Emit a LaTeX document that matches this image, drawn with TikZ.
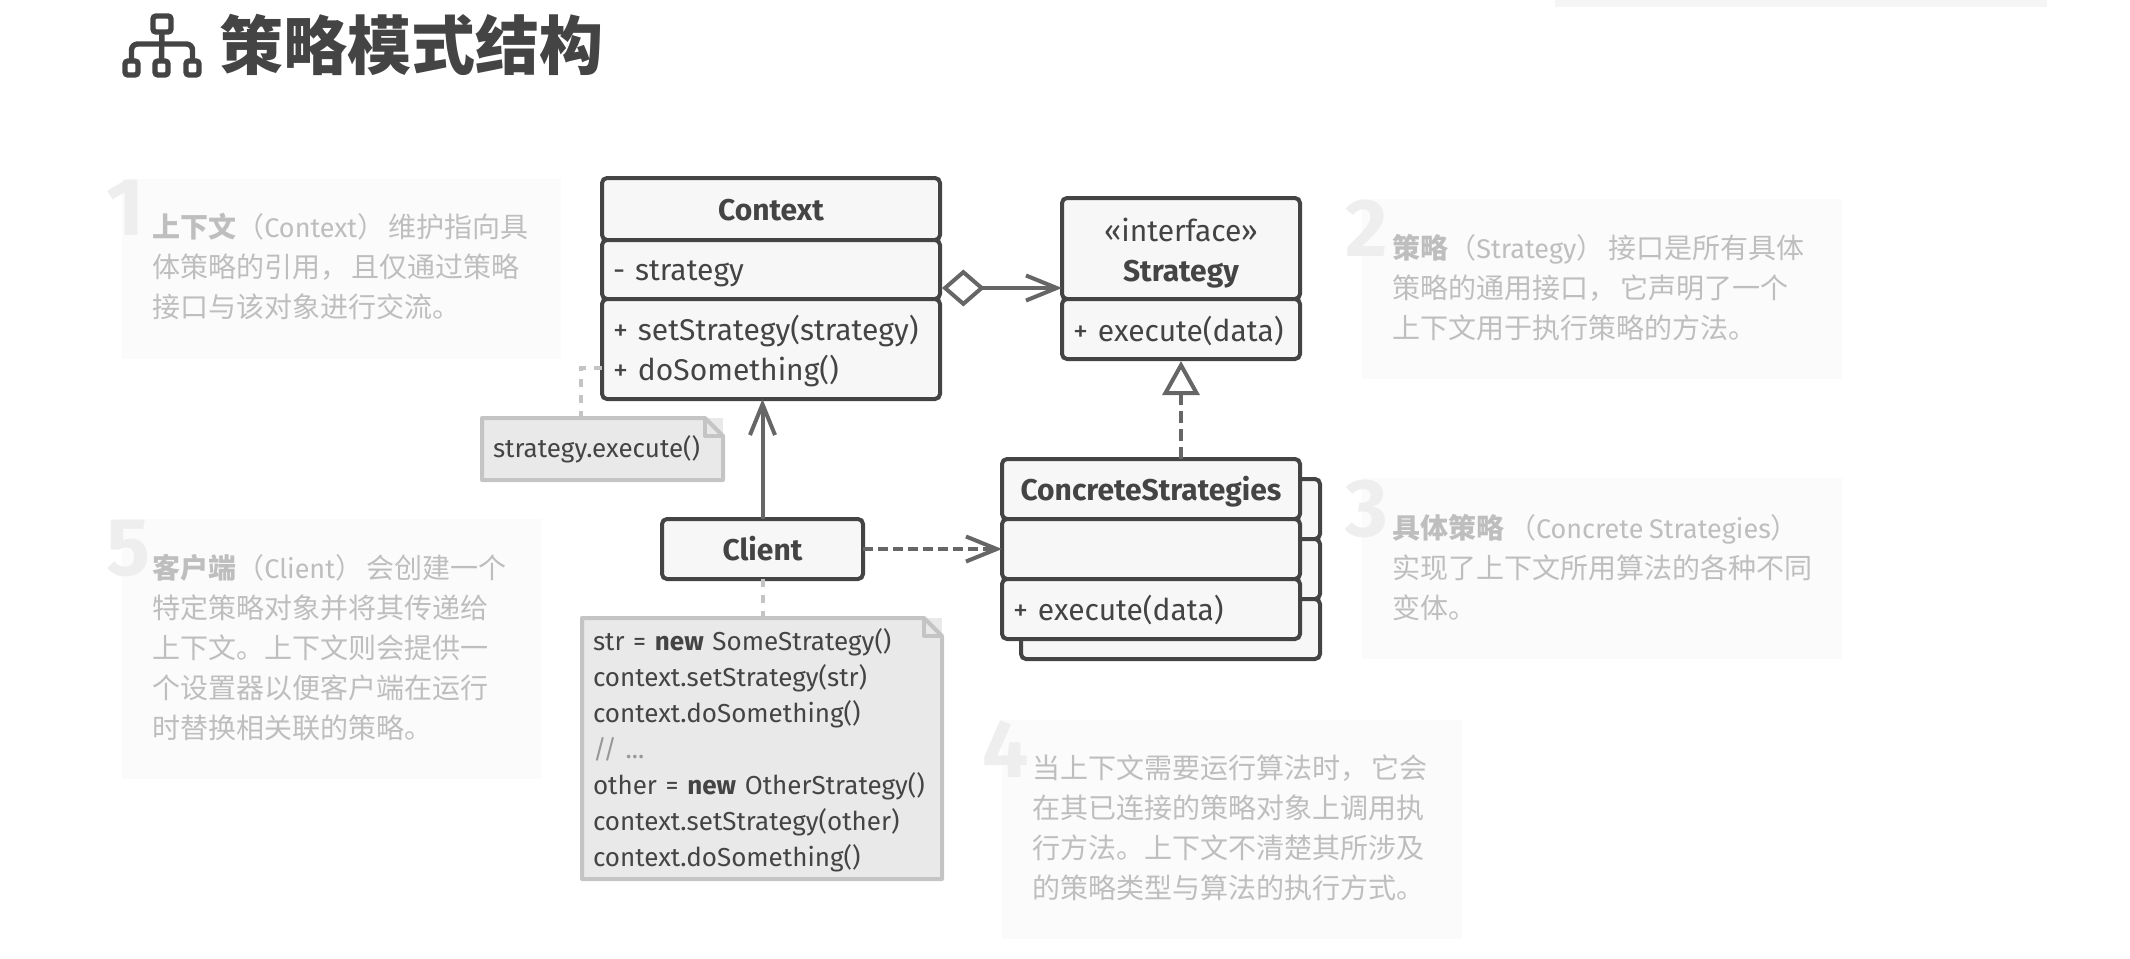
\documentclass[tikz,border=0pt]{standalone}
\usepackage{fontspec}
\setmainfont{Fira Sans}[WordSpace=0.8]
\newfontfamily\cjkfont{Noto Sans CJK SC}
\usetikzlibrary{calc,arrows.meta,positioning}
\definecolor{umlink}{HTML}{444444}
\definecolor{umlfill}{HTML}{F7F7F7}
\definecolor{umlarrow}{HTML}{666666}
\definecolor{notefill}{HTML}{E9E9E9}
\definecolor{noteline}{HTML}{C4C4C4}
\definecolor{panelfill}{HTML}{FBFBFB}
\definecolor{paneltext}{HTML}{BEBEBE}
\definecolor{panelnum}{HTML}{EEEEEE}
\definecolor{stripfill}{HTML}{F5F5F5}
\newcommand{\zh}[1]{{\cjkfont #1}}
\newcommand{\lat}[1]{{\fontsize{13.5}{20}\selectfont #1}}
\newcommand{\zhgap}{\hspace{1.8pt}}
\tikzset{
  umlrow/.style={rectangle, draw=umlink, fill=umlfill, line width=2pt, rounded corners=2.5pt,
                 anchor=north west, outer sep=0pt, inner ysep=0pt, inner xsep=5.5pt,
                 text=umlink, font=\fontsize{15}{20}\selectfont},
  umlback/.style={umlrow},
  umlbold/.style={font=\fontsize{15}{20}\selectfont\bfseries},
  textdown/.style={execute at begin node={\rule{0pt}{#1}}, execute at end node={\rule[-4pt]{0pt}{0pt}}},
  gassoc/.style ={-{Straight Barb[length=5.4mm,width=4.4mm,line width=2pt]}, line width=2pt, umlarrow},
  gaggr/.style  ={{Diamond[open,length=7.5mm,width=6.5mm,line width=2pt]}-{Straight Barb[length=5.4mm,width=4.4mm,line width=2pt]},
                  line width=2pt, umlarrow},
  gdep/.style   ={gassoc, dash pattern=on 5pt off 2.5pt},
  grealize/.style={-{Triangle[open,length=6mm,width=6.5mm,line width=2pt]}, line width=2pt, umlarrow,
                   dash pattern=on 6pt off 3pt, shorten >=1pt},
  glink/.style  ={line width=2pt, noteline, dash pattern=on 4pt off 4pt},
  notebox/.style={rectangle, fill=notefill, anchor=north west, outer sep=0pt, inner xsep=5.5pt,
                  inner ysep=0pt, text=umlink, font=\fontsize{13}{18}\selectfont},
  noteedge/.style={line width=2pt, noteline, line join=round},
  panel/.style={rectangle, fill=panelfill, anchor=north west, outer sep=0pt, inner sep=0pt},
  paneltxt/.style={anchor=north west, align=left, inner sep=0pt, text=paneltext,
                   font=\fontsize{14}{20}\selectfont},
  panelno/.style={anchor=north west, inner sep=0pt, text=panelnum,
                  font=\fontsize{41}{41}\selectfont\bfseries},
  iconbox/.style={rectangle, draw=umlink, line width=2.7pt, rounded corners=1.5pt, outer sep=0pt,
                  inner sep=0pt, anchor=north west},
  iconline/.style={line width=2.7pt, umlink, rounded corners=3pt},
}
\begin{document}
\begin{tikzpicture}[x=0.5pt,y=-0.5pt]
  \useasboundingbox (0,0) rectangle (2130,958);
  \node[panel, fill=stripfill, minimum width=246pt, minimum height=3.5pt] (topStrip) at (1555,0) {};
  % heading
  \node[iconbox, minimum width=9pt, minimum height=8pt] (icontop) at (153,16) {};
  \node[iconbox, minimum width=6.5pt, minimum height=7pt] (iconleft) at (125,61) {};
  \node[iconbox, minimum width=6.5pt, minimum height=7pt] (iconmid) at (155,61) {};
  \node[iconbox, minimum width=6.5pt, minimum height=7pt] (iconright) at (186,61) {};
  \draw[iconline] (icontop.south) -- (iconmid.north);
  \draw[iconline] (iconleft.north) -- (iconleft.north |- 0,44) -- (iconright.north |- 0,44) -- (iconright.north);
  \node[anchor=west, inner sep=0pt, text=umlink, font=\fontsize{32}{32}\selectfont\bfseries\cjkfont]
    (heading) at (219,45) {策略模式结构};
  % explanation panels
  \node[panel, minimum width=219.5pt, minimum height=90pt] (panelA) at (122,179) {};
  \node[panel, minimum width=240pt, minimum height=90pt] (panelB) at (1362,199) {};
  \node[panel, minimum width=240pt, minimum height=90.5pt] (panelC) at (1362,478) {};
  \node[panel, minimum width=230pt, minimum height=109.5pt] (panelD) at (1002,720) {};
  \node[panel, minimum width=209.5pt, minimum height=130pt] (panelE) at (122,519) {};
  \node[panelno] (numA) at (106,180) {1};
  \node[panelno] (numB) at (1345,200) {2};
  \node[panelno] (numC) at (1345,480) {3};
  \node[panelno] (numD) at (982,720) {4};
  \node[panelno] (numE) at (106,520) {5};
  \node[paneltxt] (textA) at (152,213) {\zh{\textbf{上下文}（}\lat{Context}\zh{）\zhgap 维护指向具}\\\zh{体策略的引用，\zhgap 且仅通过策略}\\\zh{接口与该对象进行交流。}};
  \node[paneltxt] (textB) at (1392,234) {\zh{\textbf{策略}（}\lat{Strategy}\zh{）\zhgap 接口是所有具体}\\\zh{策略的通用接口，\zhgap 它声明了一个}\\\zh{上下文用于执行策略的方法。}};
  \node[paneltxt] (textC) at (1392,514) {\zh{\textbf{具体策略}\zhgap（}\lat{Concrete Strategies}\zh{）}\\\zh{实现了上下文所用算法的各种不同}\\\zh{变体。}};
  \node[paneltxt] (textD) at (1032,754) {\zh{当上下文需要运行算法时，\zhgap 它会}\\\zh{在其已连接的策略对象上调用执}\\\zh{行方法。上下文不清楚其所涉及}\\\zh{的策略类型与算法的执行方式。}};
  \node[paneltxt] (textE) at (152,554) {\zh{\textbf{客户端}（}\lat{Client}\zh{）\zhgap 会创建一个}\\\zh{特定策略对象并将其传递给}\\\zh{上下文。上下文则会提供一}\\\zh{个设置器以便客户端在运行}\\\zh{时替换相关联的策略。}};
  % class boxes
  \node[umlrow, umlbold, minimum width=169pt, minimum height=31pt, text width=158pt, align=center, textdown=15.4pt] (contextHead) at (602,178) {Context};
  \node[umlrow, minimum width=169pt, minimum height=29.5pt, text width=158pt, align=left, textdown=15.4pt] (contextAttr) at (602,240) {- strategy};
  \node[umlrow, minimum width=169pt, minimum height=50pt, text width=158pt, align=left, textdown=15.4pt] (contextOps) at (602,299) {+ setStrategy(strategy)\\+ doSomething()};
  \node[umlrow, minimum width=119pt, minimum height=50.5pt, text width=108pt, align=center, textdown=17.4pt] (strategyHead) at (1062,198) {«interface»\\\textbf{Strategy}};
  \node[umlrow, minimum width=119pt, minimum height=30pt, text width=108pt, align=left, textdown=16.4pt] (strategyOps) at (1062,299) {+ execute(data)};
  \foreach \i in {0,1,2} {
    \pgfmathsetmacro{\rowy}{479 + 60*\i}
    \node[umlback, minimum width=149.5pt, minimum height=30pt] (backRow\i) at (1021,\rowy) {};
  }
  \node[umlrow, umlbold, minimum width=149pt, minimum height=30pt, text width=138pt, align=center, textdown=15.4pt] (concreteHead) at (1002,459) {ConcreteStrategies};
  \node[umlrow, minimum width=149pt, minimum height=30pt, text width=138pt] (concreteAttr) at (1002,519) {};
  \node[umlrow, minimum width=149pt, minimum height=30pt, text width=138pt, align=left, textdown=15pt] (concreteOps) at (1002,579) {+ execute(data)};
  \node[umlrow, umlbold, minimum width=100.5pt, minimum height=30pt, text width=89.5pt, align=center, textdown=15.4pt] (client) at (662,519) {Client};
  % notes
  \node[notebox, minimum width=120.5pt, minimum height=31pt, text width=109.5pt, align=left, textdown=12.5pt] (noteExec) at (482,418) {strategy.execute()};
  \node[notebox, minimum width=180pt, minimum height=130.5pt, text width=169pt, align=left, textdown=13.5pt] (noteClient) at (582,618)
    {str = \textbf{new} SomeStrategy()\\context.setStrategy(str)\\context.doSomething()\\\textcolor{umlink!55}{// ...}\\other = \textbf{new} OtherStrategy()\\context.setStrategy(other)\\context.doSomething()};
  \foreach \n in {noteExec,noteClient} {
    \draw[noteedge] (\n.north west) -- ($(\n.north east)+(-18,0)$) -- ($(\n.north east)+(0,18)$) -- (\n.south east) -- (\n.south west) -- cycle;
    \draw[noteedge] ($(\n.north east)+(-18,0)$) -- ($(\n.north east)+(-18,18)$) -- ($(\n.north east)+(0,18)$);
  }
  % connectors
  \coordinate (execBend) at (581,368);
  \coordinate (aggrLevel) at (0,288);
  \draw[glink] (contextOps.west |- execBend) -- (execBend) -- (execBend |- noteExec.north);
  \draw[glink] (client.south) -- (noteClient.north -| client.south);
  \draw[gaggr] ([xshift=1pt]contextAttr.east |- aggrLevel) -- (strategyHead.west |- aggrLevel);
  \draw[gassoc] (client.north) -- (client.north |- contextOps.south);
  \draw[gdep] (client.east) -- (concreteAttr.west);
  \draw[grealize] (strategyOps.south |- concreteHead.north) -- (strategyOps.south);
\end{tikzpicture}
\end{document}
